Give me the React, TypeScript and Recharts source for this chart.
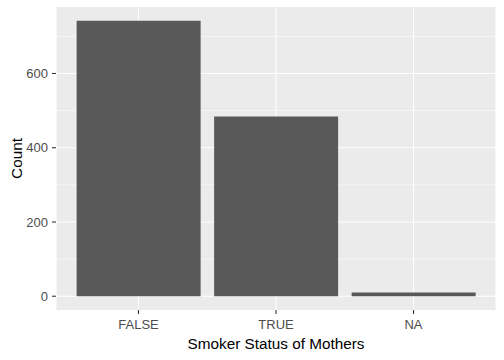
import { Bar, BarChart, CartesianGrid, XAxis, YAxis, Label } from "recharts";

const categories = ["FALSE", "TRUE", "NA"];
const counts = [742, 484, 10];
const majorTicks = [0, 200, 400, 600];
const minorTicks = [100, 300, 500, 700];

const data = categories.map((smoke, i) => ({ smoke, count: counts[i] }));

// ggplot-style 5% expansion of the continuous axis
const maxCount = Math.max(...counts);
const yDomain = [-0.05 * maxCount, maxCount * 1.05];

const font = "'Liberation Sans', Arial, sans-serif";
const tickStyle = { fontFamily: font, fontSize: 13, fill: "#4D4D4D" };

export default function App() {
  return (
    <div style={{ position: "absolute", left: 0, top: 0, background: "#fff" }}>
      <BarChart
        width={504}
        height={360}
        data={data}
        margin={{ top: 7, right: 8, left: 0, bottom: 0 }}
        barCategoryGap="5%"
      >
        <CartesianGrid
          fill="#EBEBEB"
          stroke="#FFFFFF"
          strokeWidth={0.53}
          vertical={false}
          horizontalValues={minorTicks}
        />
        <CartesianGrid
          stroke="#FFFFFF"
          strokeWidth={1.07}
          horizontalValues={majorTicks}
        />
        <XAxis
          dataKey="smoke"
          type="category"
          height={50}
          padding={{ left: 13.75, right: 13.75 }}
          axisLine={false}
          tickLine={{ stroke: "#333333", strokeWidth: 1.07 }}
          tickSize={4}
          tickMargin={6}
          tick={tickStyle}
        >
          <Label
            content={({ viewBox }: any) => (
              <text
                x={viewBox.x + viewBox.width / 2}
                y={viewBox.y + 39}
                textAnchor="middle"
                fontFamily={font}
                fontSize={15.3}
                fill="#000"
              >
                Smoker Status of Mothers
              </text>
            )}
          />
        </XAxis>
        <YAxis
          type="number"
          domain={yDomain}
          ticks={majorTicks}
          width={56}
          axisLine={false}
          tickLine={{ stroke: "#333333", strokeWidth: 1.07 }}
          tickSize={4}
          tickMargin={4}
          tick={tickStyle}
          allowDataOverflow
        >
          <Label
            content={({ viewBox }: any) => (
              <text
                transform={`translate(${viewBox.x + 16}, ${viewBox.y + viewBox.height / 2}) rotate(-90)`}
                textAnchor="middle"
                dominantBaseline="central"
                fontFamily={font}
                fontSize={15.3}
                fill="#000"
              >
                Count
              </text>
            )}
          />
        </YAxis>
        <Bar dataKey="count" fill="#595959" isAnimationActive={false} />
      </BarChart>
    </div>
  );
}
